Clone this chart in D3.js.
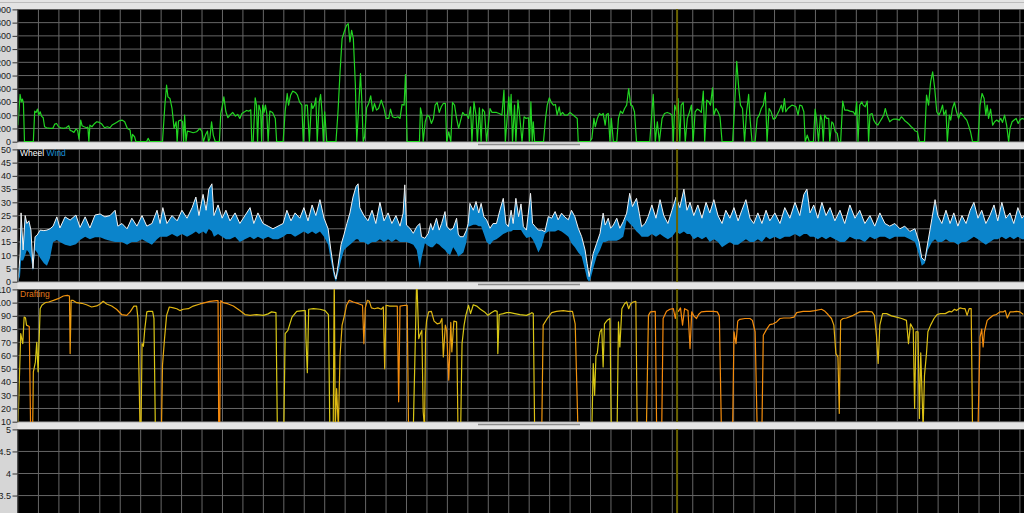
<!DOCTYPE html>
<html><head><meta charset="utf-8">
<script src="https://cdn.jsdelivr.net/npm/d3@7"></script>
<style>html,body{margin:0;padding:0;background:#d9d9d9;overflow:hidden}svg{display:block}</style>
</head><body><svg id="c" width="1024" height="513"></svg>
<script>
// ---------- DATA (time in seconds) ----------
const rideEnd = 2952;
const cursorTime = 1934;
const powerTicks = [0,200,400,600,800,1000,1200,1400,1600,1800,2000];
const speedTicks = [0,5,10,15,20,25,30,35,40,45,50];
const draftTicks = [10,20,30,40,50,60,70,80,90,100,110];
const extraTicks = [2,2.5,3,3.5,4,4.5,5];

// power [time, watts]
const power = [[0,251],[6,714],[10,603],[13,643],[16,578],[19,0],[45,0],[49,462],[53,442],[57,492],[61,402],[65,452],[69,387],[74,362],[78,226],[84,211],[94,201],[102,201],[108,266],[113,276],[119,226],[125,211],[133,201],[141,211],[149,241],[153,171],[158,161],[164,141],[170,191],[175,171],[179,40],[184,327],[188,241],[194,226],[201,211],[205,220],[208,0],[211,251],[217,226],[225,276],[231,301],[239,291],[246,266],[254,211],[262,226],[270,211],[276,251],[284,276],[289,291],[297,317],[305,327],[313,301],[321,201],[329,176],[333,0],[336,110],[342,75],[346,0],[377,0],[382,50],[387,0],[424,0],[431,553],[436,854],[440,678],[446,653],[452,502],[458,201],[464,301],[467,0],[471,312],[477,327],[483,301],[486,0],[489,402],[493,0],[497,161],[505,151],[514,136],[524,151],[534,201],[540,151],[544,0],[550,100],[556,161],[559,0],[563,50],[568,301],[573,100],[579,0],[591,0],[595,427],[600,553],[604,678],[610,452],[616,362],[622,402],[630,442],[638,387],[645,412],[651,352],[657,427],[665,452],[671,472],[677,462],[683,482],[686,0],[690,0],[696,663],[700,553],[703,0],[707,553],[712,462],[715,0],[718,553],[722,442],[726,553],[730,427],[734,0],[739,462],[747,442],[755,352],[759,0],[778,0],[784,462],[790,729],[794,553],[800,704],[806,764],[814,744],[820,704],[826,603],[833,553],[837,0],[843,553],[849,553],[855,0],[861,578],[865,502],[870,553],[874,663],[878,0],[884,603],[888,714],[892,452],[896,0],[900,452],[906,0],[933,0],[939,452],[945,1055],[951,1558],[957,1658],[964,1759],[969,1784],[974,1508],[979,1683],[984,1558],[990,854],[994,0],[1000,553],[1005,1030],[1009,603],[1013,0],[1017,75],[1023,513],[1029,578],[1035,693],[1041,462],[1046,578],[1052,477],[1058,502],[1066,628],[1074,502],[1080,352],[1088,352],[1093,492],[1099,377],[1107,362],[1115,377],[1121,352],[1127,563],[1133,553],[1137,1015],[1142,0],[1178,0],[1181,513],[1185,412],[1189,0],[1195,301],[1201,402],[1207,377],[1213,276],[1219,352],[1224,553],[1230,593],[1236,442],[1242,528],[1248,578],[1254,578],[1258,0],[1264,150],[1270,0],[1275,593],[1281,553],[1287,352],[1293,201],[1299,327],[1305,442],[1311,402],[1316,412],[1322,352],[1328,528],[1332,0],[1338,603],[1344,402],[1348,0],[1354,513],[1359,0],[1363,492],[1369,452],[1375,0],[1385,502],[1391,442],[1397,442],[1404,442],[1412,427],[1420,402],[1426,779],[1430,0],[1436,402],[1440,678],[1444,402],[1447,714],[1451,0],[1457,553],[1461,0],[1467,628],[1471,452],[1479,0],[1485,377],[1491,352],[1498,362],[1501,0],[1505,603],[1509,0],[1512,301],[1516,0],[1542,0],[1548,352],[1553,553],[1559,663],[1565,593],[1571,553],[1577,563],[1582,402],[1588,528],[1592,402],[1598,442],[1604,402],[1612,402],[1620,442],[1627,412],[1635,377],[1641,352],[1644,0],[1678,0],[1684,50],[1690,352],[1694,226],[1700,352],[1706,427],[1712,402],[1717,427],[1723,251],[1727,412],[1732,427],[1737,0],[1741,352],[1747,0],[1757,0],[1762,352],[1768,462],[1774,427],[1780,502],[1786,553],[1792,804],[1798,553],[1803,543],[1809,452],[1815,0],[1854,0],[1858,301],[1864,714],[1870,0],[1876,301],[1882,0],[1890,352],[1897,427],[1905,442],[1913,427],[1919,402],[1923,0],[1927,553],[1933,452],[1937,653],[1942,0],[1946,553],[1952,593],[1958,0],[1964,352],[1970,442],[1976,553],[1981,0],[1987,452],[1993,492],[1999,477],[2005,442],[2011,764],[2015,0],[2021,628],[2027,603],[2032,553],[2038,814],[2042,402],[2048,502],[2054,452],[2060,377],[2066,0],[2097,0],[2103,553],[2109,1216],[2115,804],[2120,553],[2126,502],[2132,0],[2138,452],[2144,714],[2148,352],[2154,0],[2163,0],[2169,352],[2175,402],[2181,502],[2187,553],[2193,744],[2198,0],[2204,502],[2210,452],[2216,342],[2222,352],[2228,412],[2234,477],[2240,553],[2244,452],[2249,653],[2253,452],[2259,502],[2265,528],[2271,553],[2277,543],[2283,528],[2289,402],[2294,553],[2300,543],[2306,452],[2310,0],[2316,100],[2322,0],[2334,0],[2339,492],[2343,352],[2349,0],[2355,402],[2359,327],[2363,0],[2367,402],[2373,352],[2379,352],[2382,0],[2388,301],[2392,276],[2398,151],[2404,126],[2408,0],[2414,0],[2420,613],[2426,477],[2434,477],[2441,462],[2451,452],[2457,402],[2461,603],[2465,0],[2470,553],[2476,603],[2480,553],[2486,528],[2492,613],[2496,0],[2500,412],[2506,427],[2511,327],[2517,276],[2523,251],[2529,301],[2535,352],[2541,412],[2545,502],[2550,402],[2558,301],[2564,327],[2570,342],[2578,342],[2586,327],[2592,377],[2597,352],[2603,312],[2609,291],[2615,261],[2621,226],[2627,201],[2633,161],[2639,151],[2645,0],[2660,0],[2666,704],[2672,553],[2678,905],[2684,1055],[2690,804],[2696,452],[2702,402],[2707,452],[2713,553],[2717,402],[2723,477],[2727,0],[2733,402],[2737,327],[2742,502],[2748,593],[2754,452],[2760,352],[2766,442],[2772,402],[2778,362],[2784,327],[2789,251],[2795,151],[2801,0],[2817,0],[2823,553],[2829,729],[2835,653],[2840,402],[2844,553],[2848,352],[2854,492],[2860,251],[2866,301],[2872,327],[2878,301],[2884,352],[2889,291],[2895,402],[2901,251],[2907,0],[2911,201],[2917,301],[2923,327],[2929,352],[2935,276],[2940,327],[2946,352],[2952,340]];

// speed [time, wheel km/h, wind km/h]
const speed = [[0,0,0],[6,10,2],[9,26,8],[15,12,8],[21,25,10],[26,22,12],[32,23,11],[38,19.5,9],[44,5,4],[50,17,12],[56,17.6,11],[65,19.5,9],[76,19.3,7],[85,19.5,6],[94,20,9],[103,21,15],[114,24.5,15.8],[123,20.3,15],[138,24.5,14],[153,23.3,13.5],[170,25.2,14.2],[182,20.5,15.8],[197,24.5,17],[211,20.3,16],[226,25.2,16.8],[241,25.6,16.8],[255,24.5,16],[270,25,15.5],[285,27,15],[293,21,15],[305,22,15],[320,20,14],[334,24,15],[349,21,15],[364,25,16],[378,21,15],[393,22,14],[408,27,16],[417,22,17],[425,28,17],[437,22,17],[452,25,18],[467,23,17],[481,27,18],[496,24,17],[511,28,18],[522,32,19],[531,25,18],[543,33,19],[552,27,18],[560,35,20],[569,37,19],[575,25,17],[587,29,18],[599,24,17],[610,27,16],[622,23,16],[637,26,17],[651,22,15],[666,25,16],[681,28,17],[692,22,16],[704,26,17],[719,22,16],[734,21,17],[748,20,16],[763,21,16],[778,22,17],[789,27,18],[801,23,18],[813,26,17],[827,24,18],[839,28,19],[851,23,18],[863,29,19],[874,25,18],[886,31,19],[898,24,17],[910,20,14],[918,12,8],[927,4,2],[933,1,0],[939,6,3],[948,14,8],[957,18,12],[965,22,13],[974,26,14],[983,32,15],[992,36,16],[998,37,16],[1003,28,15],[1015,25,15],[1027,23,14],[1039,27,15],[1050,22,15],[1062,30,16],[1074,23,15],[1086,26,16],[1097,22,15],[1109,25,16],[1121,21,15],[1130,25.9,15],[1135,36.6,15],[1140,21.4,15],[1150,20.2,14.5],[1160,18.3,14],[1170,20.8,12],[1179,22,5],[1184,17,9],[1194,16.4,14.5],[1204,18.3,13.5],[1211,22,13],[1217,19.5,13],[1228,24,14.5],[1236,19.5,14],[1243,22,13],[1253,26.5,12],[1258,21,11],[1268,19.5,10],[1277,20.2,13],[1287,24,11],[1292,18,9.5],[1297,17,10],[1307,17,11],[1316,19.5,15],[1321,22,20.8],[1326,29.6,21],[1336,27,21.5],[1344,30.3,21.5],[1352,26,21],[1359,29.6,21],[1367,24.6,18],[1375,23.4,15],[1385,20.2,14],[1394,22,15.5],[1404,22,16],[1414,27,17],[1424,31.5,18],[1432,22,18.5],[1439,20.8,19],[1447,27,19],[1453,22,19.5],[1461,31.5,19.5],[1469,24.6,19.5],[1476,29.4,19.5],[1483,20.8,18],[1492,19.5,16.5],[1504,33.4,17],[1510,22,16],[1518,20.8,14],[1527,19.5,11],[1537,19.5,13.5],[1546,18.9,18],[1556,24.6,19],[1566,24,19],[1576,26.5,19],[1585,23.4,19.5],[1595,25.9,19],[1605,24.4,18],[1615,23.4,17],[1624,27,14.5],[1634,24.6,13],[1644,20.2,11],[1654,17,9.5],[1664,12,4.4],[1670,6.9,1],[1676,1.9,0],[1680,5,1],[1688,10.7,5],[1698,14.5,9.5],[1708,18.3,12],[1717,25.9,15],[1723,21.4,15],[1732,24,15.5],[1739,20.2,15.5],[1747,21.4,15.5],[1757,24,15.5],[1766,20.2,16],[1776,22.7,17],[1786,25.9,23.3],[1795,33.4,22],[1803,28.4,21],[1815,31.5,19],[1823,25.9,18],[1830,20.8,17],[1840,22,17],[1849,24.6,17],[1860,29,18],[1872,24,17],[1884,31,18],[1895,25,17],[1907,22,16],[1919,27,17],[1931,32,19],[1942,28,18],[1954,35,19],[1963,27,18],[1972,30,18],[1983,25,16],[1995,29,17],[2007,24,16],[2019,30,17],[2030,26,15],[2042,31,16],[2054,25,15],[2066,22,13],[2077,27,14],[2089,24,15],[2101,28,14],[2113,23,14],[2124,27,15],[2136,31,16],[2148,24,15],[2159,22,15],[2171,26,16],[2183,22,15],[2195,27,17],[2206,23,16],[2221,26,17],[2236,22,16],[2250,28,17],[2265,24,17],[2280,30,18],[2294,25,17],[2306,33,18],[2315,35,18],[2324,26,17],[2335,29,17],[2347,24,16],[2359,30,17],[2371,25,16],[2383,28,17],[2397,23,16],[2412,27,15],[2426,22,15],[2441,29,17],[2456,24,16],[2470,27,16],[2485,22,15],[2500,25,17],[2514,21,16],[2529,26,17],[2544,22,17],[2558,21,16],[2573,22,17],[2588,20,17],[2602,21,17],[2617,19,16],[2632,20,15],[2644,15,10],[2652,9,6],[2661,8,7],[2670,15,12],[2682,24,15],[2691,31,16],[2699,25,15],[2711,22,15],[2723,27,16],[2735,22,15],[2746,26,15],[2758,21,14],[2770,25,15],[2782,22,15],[2794,27,16],[2805,30,17],[2817,24,16],[2828,27,15],[2840,22,14],[2852,25,15],[2864,29,16],[2875,23,16],[2887,30,17],[2899,24,16],[2911,26,17],[2922,22,16],[2934,28,17],[2946,24,16],[2952,25,16]];

// drafting [time, value]
const drafting = [[0,8],[8,76.6],[14,69],[18,89],[22,88.6],[25,83],[33,82],[37,5],[43,5],[45,47.7],[51,55],[55,70],[59,47.7],[65,95.4],[70,98],[80,100],[90,100.5],[104,101.7],[118,103],[133,105],[145,105.5],[151,105],[153,61.5],[156,101.7],[162,101.7],[172,100],[187,99.5],[201,98.4],[216,96.7],[231,97.5],[241,99],[250,101],[260,99],[275,97.5],[289,95],[304,91],[319,90.4],[329,93],[340,97.4],[348,97.4],[352,88],[356,32.6],[358,5],[361,5],[364,69],[368,67],[372,80],[378,93],[383,93.4],[395,93.4],[399,88],[403,5],[421,5],[424,52.7],[430,72.8],[436,90.4],[444,96.7],[456,96],[466,95.4],[475,94],[485,95],[500,95.4],[514,97.4],[534,99],[549,100],[563,101],[583,101.5],[587,101.5],[589,5],[592,5],[595,101.5],[602,100],[617,99],[632,97.4],[651,94],[666,91],[681,90.4],[700,91],[720,90.4],[734,91.5],[744,93],[757,92.4],[761,5],[780,5],[784,76.6],[792,79],[804,89],[818,93.4],[837,94],[843,94],[845,72.8],[849,47],[853,95],[867,95.4],[886,95],[901,94],[911,91],[915,5],[925,5],[928,120],[931,5],[935,35],[940,5],[945,60],[951,83],[958,90.4],[964,98],[972,101.7],[984,100.5],[999,99.2],[1011,98],[1015,69],[1019,96],[1025,101.7],[1031,101],[1037,96],[1046,95.4],[1056,96],[1066,95],[1072,96.7],[1076,50],[1080,98],[1091,97.4],[1113,97.4],[1117,25],[1121,97.4],[1136,98],[1142,98],[1146,5],[1160,5],[1166,72.8],[1170,120],[1176,72.8],[1179,75.3],[1185,79],[1189,17.5],[1193,5],[1196,77],[1199,86.6],[1205,93],[1213,93.4],[1221,86],[1230,84],[1238,84.5],[1244,88],[1248,59],[1254,83],[1258,79],[1264,41.4],[1270,85],[1273,62.8],[1279,86],[1287,85.4],[1291,5],[1299,5],[1303,69],[1309,83],[1314,90.4],[1322,98],[1328,91.7],[1336,98.4],[1346,97.4],[1357,95],[1369,93],[1379,90.4],[1389,92.4],[1400,94],[1406,93.4],[1408,61.5],[1412,91],[1424,91.7],[1434,92.4],[1444,92.4],[1458,91.7],[1473,91],[1492,90.4],[1504,91.7],[1508,92.4],[1512,91.7],[1516,5],[1537,5],[1541,83],[1553,88],[1566,92.4],[1580,93.4],[1600,94],[1615,93.4],[1627,93.4],[1635,84],[1643,5],[1684,5],[1688,54],[1692,30],[1696,60],[1700,62],[1704,72],[1708,78],[1713,80],[1717,51.4],[1721,84],[1729,86.6],[1737,88],[1741,5],[1758,5],[1762,85.4],[1766,66.5],[1772,95.4],[1780,99.2],[1786,100.5],[1792,95.4],[1798,99.2],[1805,100.5],[1813,101],[1817,5],[1844,5],[1850,90.4],[1856,93],[1870,93.4],[1874,5],[1889,5],[1893,88],[1903,93.4],[1913,95],[1923,95.4],[1929,88],[1933,95.4],[1938,93.4],[1944,96],[1950,83],[1956,95.4],[1966,94],[1972,65.3],[1977,93],[1983,90],[1991,88],[1997,91],[2005,93],[2020,93.4],[2040,93.4],[2052,93],[2058,90],[2064,5],[2097,5],[2101,78],[2107,69],[2112,86],[2118,87.4],[2133,88],[2148,88],[2155,86.6],[2163,78],[2169,5],[2183,5],[2187,75.3],[2197,80],[2206,83.4],[2216,84],[2226,85.4],[2236,88],[2247,88.4],[2265,88.4],[2277,89],[2285,92.4],[2304,93.4],[2324,93.4],[2338,94],[2358,95],[2368,93.4],[2377,91],[2387,88],[2394,83],[2400,61.5],[2406,59],[2410,16.3],[2414,86.6],[2421,88],[2431,88.4],[2451,90.4],[2470,93],[2490,93.4],[2506,93],[2513,90.4],[2519,75.3],[2524,54],[2529,83],[2537,91.7],[2549,91.7],[2563,90],[2578,89],[2593,88],[2607,86.6],[2613,69],[2619,84],[2627,80],[2631,20],[2635,78],[2641,78],[2645,12.5],[2649,62],[2656,5],[2660,45],[2666,62],[2670,78],[2678,83],[2688,88],[2697,91],[2707,91.7],[2721,91.7],[2733,93.4],[2740,93],[2748,95],[2754,94],[2764,96],[2774,95.4],[2779,95.4],[2785,90.4],[2791,95.4],[2797,95.4],[2801,5],[2817,5],[2823,74],[2828,80],[2832,66.5],[2836,78],[2844,86.6],[2852,88.4],[2862,90.4],[2871,91],[2881,93],[2891,93],[2897,94],[2903,88.4],[2911,93],[2920,93],[2930,93.4],[2940,93],[2950,91]];

// drafting colour tone over time (0 = yellow, 1 = orange)
const draftTone = [[0,0.2],[25,0.2],[31,1],[43,1],[47,0.1],[66,0.1],[84,0.5],[113,0.8],[148,0.9],[158,0.6],[270,0.4],[289,0.8],[324,0.9],[343,0.3],[406,0.1],[419,0.9],[431,0.3],[524,0.4],[544,0.9],[593,1],[661,0.5],[720,0.1],[915,0.1],[955,0.5],[974,1],[1013,0.9],[1043,0.4],[1101,0.3],[1116,1],[1145,0.8],[1160,0.1],[1199,0.3],[1248,0.4],[1264,1],[1277,0.4],[1307,0.1],[1512,0.1],[1537,0.9],[1546,0.3],[1629,0.4],[1639,0.9],[1678,0.1],[1766,0.1],[1815,0.4],[1854,0.9],[1893,1],[2382,0.9],[2397,0.4],[2421,0.8],[2500,0.8],[2529,0.2],[2676,0.2],[2803,0.4],[2818,1],[2842,0.9],[2950,0.7]];

// ---------- DRAWING ----------
const W = 1024, H = 513;
const plotLeft = 17.5;
const panelTop0 = 9, panelPitch = 140, panelH = 133;
const svg = d3.select('#c');
const defs = svg.append('defs');
const x = d3.scaleLinear().domain([0, rideEnd]).range([18, W]);

svg.append('rect').attr('width', W).attr('height', H).attr('fill', '#d6d6d6');
svg.append('rect').attr('x', 0).attr('y', 0).attr('width', W).attr('height', panelTop0).attr('fill', '#e3e3e3');
svg.append('line').attr('x1', 0).attr('x2', W).attr('y1', 2.5).attr('y2', 2.5).attr('stroke', '#bcbcbc');

const panels = [
  {domain: [0, 2000], ticks: powerTicks},
  {domain: [0, 50], ticks: speedTicks},
  {domain: [10, 110], ticks: draftTicks},
  {domain: [2, 5], ticks: extraTicks}
];

panels.forEach((p, i) => {
  const top = panelTop0 + i * panelPitch;
  p.top = top;
  p.y = d3.scaleLinear().domain(p.domain).range([top + 132.7, top + 0.4]);
  svg.append('rect').attr('x', plotLeft).attr('y', top).attr('width', W - plotLeft).attr('height', panelH).attr('fill', '#000');
  defs.append('clipPath').attr('id', 'clip' + i).append('rect')
    .attr('x', plotLeft).attr('y', top).attr('width', W - plotLeft).attr('height', panelH);
  const g = svg.append('g').attr('clip-path', `url(#clip${i})`);
  p.g = g;
  // grid
  g.selectAll('.vg').data(d3.range(60, rideEnd, 60)).join('line')
    .attr('x1', d => x(d)).attr('x2', d => x(d)).attr('y1', top).attr('y2', top + panelH)
    .attr('stroke', '#666').attr('stroke-width', 1);
  g.selectAll('.hg').data(p.ticks).join('line')
    .attr('x1', plotLeft).attr('x2', W).attr('y1', d => p.y(d)).attr('y2', d => p.y(d))
    .attr('stroke', '#666').attr('stroke-width', 1);
  // separator below
  if (i < 3) {
    const sy = top + panelH;
    svg.append('rect').attr('x', plotLeft).attr('y', sy).attr('width', W - plotLeft).attr('height', panelPitch - panelH).attr('fill', '#e5e5e5');
    svg.append('line').attr('x1', plotLeft).attr('x2', W).attr('y1', sy + 0.5).attr('y2', sy + 0.5).attr('stroke', '#c9c9c9');
    svg.append('line').attr('x1', 478).attr('x2', 580).attr('y1', sy + 2.5).attr('y2', sy + 2.5).attr('stroke', '#8c8c8c').attr('stroke-width', 1.5);
  }
});

// power
const P = panels[0];
P.g.append('path').datum(power)
  .attr('d', d3.line().x(d => x(d[0])).y(d => P.y(d[1])))
  .attr('fill', 'none').attr('stroke', '#22d422').attr('stroke-width', 1.2).attr('stroke-linejoin', 'round');

// speed
const S = panels[1];
S.g.append('path').datum(speed)
  .attr('d', d3.area().x(d => x(d[0])).y0(d => S.y(d[2])).y1(d => S.y(d[1])))
  .attr('fill', '#0b84cb');
S.g.append('path').datum(speed)
  .attr('d', d3.line().x(d => x(d[0])).y(d => S.y(d[1])))
  .attr('fill', 'none').attr('stroke', '#f2f2f2').attr('stroke-width', 1).attr('stroke-linejoin', 'round');

// drafting
const D = panels[2];
const toneColor = d3.interpolateRgb('#d4ce16', '#f5880c');
const grad = defs.append('linearGradient').attr('id', 'draftGrad')
  .attr('gradientUnits', 'userSpaceOnUse')
  .attr('x1', x(0)).attr('x2', x(rideEnd)).attr('y1', 0).attr('y2', 0);
grad.selectAll('stop').data(draftTone).join('stop')
  .attr('offset', d => d[0] / rideEnd).attr('stop-color', d => toneColor(d[1]));
D.g.append('path').datum(drafting)
  .attr('d', d3.line().x(d => x(d[0])).y(d => D.y(d[1])))
  .attr('fill', 'none').attr('stroke', 'url(#draftGrad)').attr('stroke-width', 1.2).attr('stroke-linejoin', 'round');

// cursor
panels.forEach(p => {
  p.g.append('line').attr('x1', x(cursorTime)).attr('x2', x(cursorTime))
    .attr('y1', p.top).attr('y2', p.top + panelH)
    .attr('stroke', '#6a6200').attr('stroke-width', 2);
});

// axes
panels.forEach(p => {
  const ax = svg.append('g').attr('transform', `translate(${plotLeft},0)`)
    .call(d3.axisLeft(p.y).tickValues(p.ticks).tickSize(5).tickSizeOuter(0).tickPadding(1.5).tickFormat(d => String(d)));
  ax.select('.domain').attr('stroke', '#333');
  ax.selectAll('.tick line').attr('stroke', '#333');
  ax.selectAll('.tick text').attr('fill', '#1a1a1a').style('font-size', '9px').style('font-family', '"Liberation Sans", Arial, sans-serif');
});

// legends
const lg = svg.append('text').attr('x', 20).attr('y', S.top + 6.5)
  .style('font-size', '8.5px').style('font-family', '"Liberation Sans", Arial, sans-serif');
lg.append('tspan').attr('fill', '#ffffff').text('Wheel ');
lg.append('tspan').attr('fill', '#1a8fd6').text('Wind');
svg.append('text').attr('x', 20).attr('y', D.top + 7.5)
  .style('font-size', '8.5px').style('font-family', '"Liberation Sans", Arial, sans-serif')
  .attr('fill', '#e0781a').text('Drafting');
</script></body></html>
